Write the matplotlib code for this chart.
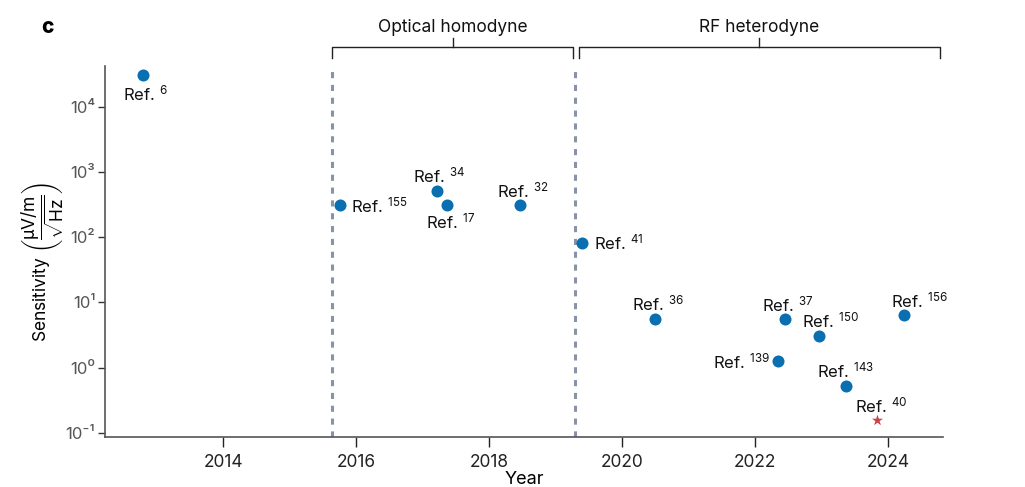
import numpy as np
import matplotlib
matplotlib.use("Agg")
import matplotlib.pyplot as plt


#-------------------------------
# SENSITIVITY vs YEAR (Rydberg receivers)
#-------------------------------

refs = ["6", "155", "34", "17", "32", "41", "36", "37", "150", "139", "143", "40", "156"]
years = [2012.79, 2015.76, 2017.21, 2017.37, 2018.46, 2019.40, 2020.49,
         2022.46, 2022.96, 2022.35, 2023.37, 2023.83, 2024.25]
sensitivity = [3.1e4, 310, 515, 310, 310, 82, 5.5, 5.5, 3.0, 1.25, 0.52, 0.158, 6.3]
highlight = ["40"]          # drawn as a star

method_names = ["Optical homodyne", "RF heterodyne"]
method_spans = [(2015.64, 2019.27), (2019.35, 2024.78)]
method_splits = [2015.64, 2019.30]

xticks = [2014, 2016, 2018, 2020, 2022, 2024]
yticks = [1e-1, 1e0, 1e1, 1e2, 1e3, 1e4]
ytick_labels = ["10⁻¹", "10⁰", "10¹", "10²", "10³", "10⁴"]

# label placement (pixel offset, horizontal alignment)
label_pos = {
    "6": (3, -18, "center"), "155": (11, 0, "left"), "34": (3, 15, "center"),
    "17": (3, -16, "center"), "32": (3, 15, "center"), "41": (12, 0, "left"),
    "36": (3, 16, "center"), "37": (2, 15, "center"), "150": (12, 16, "center"),
    "139": (-8, 0, "right"), "143": (0, 16, "center"), "40": (5, 14, "center"),
    "156": (15, 15, "center"),
}

plt.rcParams["font.family"] = ["Inter", "DejaVu Sans"]
plt.rcParams["mathtext.fontset"] = "custom"
plt.rcParams["mathtext.rm"] = "Inter"
plt.rcParams["mathtext.it"] = "Inter"
plt.rcParams["mathtext.bf"] = "Inter:bold"

blue = "#0a6fb0"
red = "#c9424c"
dash_col = "#8993a8"

fig = plt.figure(figsize=(10.25, 4.87), dpi=100)
ax = fig.add_axes([0.1024, 0.1027, 0.8176, 0.7618])

for r, x, y in zip(refs, years, sensitivity):
    if r in highlight:
        ax.scatter(x, y, marker="*", s=70, color=red, zorder=3, linewidths=0)
    else:
        ax.scatter(x, y, marker="o", s=75, color=blue, zorder=3, linewidths=0)
    dx, dy, ha = label_pos[r]
    ax.annotate("Ref. $^{%s}$" % r, (x, y), xytext=(dx, dy),
                textcoords="offset pixels", ha=ha, va="center",
                fontsize=12, color="#111111")

for xs in method_splits:
    ax.axvline(xs, ymin=0, ymax=0.99, color=dash_col, lw=2.2,
               ls=(0, (2, 2.2)), zorder=1)

# brackets above the axes
trans = ax.get_xaxis_transform()
for name, (x0, x1) in zip(method_names, method_spans):
    xm = (x0 + x1) / 2
    ax.plot([x0, x0, x1, x1], [1.021, 1.051, 1.051, 1.021], color="#222222",
            lw=1.0, transform=trans, clip_on=False)
    ax.plot([xm, xm], [1.051, 1.076], color="#222222", lw=1.0,
            transform=trans, clip_on=False)
    ax.text(xm, 1.105, name, transform=trans, ha="center", va="center",
            fontsize=12.5, color="#111111")

ax.set_yscale("log")
ax.set_xlim(2012.22, 2024.83)
ax.set_ylim(10 ** -1.066, 10 ** 4.63)
ax.set_xticks(xticks)
ax.set_yticks(yticks)
ax.set_yticklabels(ytick_labels, color="#555555", fontsize=12)
ax.minorticks_off()
ax.tick_params(axis="x", direction="out", length=7, width=1, labelsize=12.5,
               pad=5, colors="#222222")
ax.tick_params(axis="y", direction="out", length=5, width=1, color="#333333",
               pad=2)

for side in ["top", "right"]:
    ax.spines[side].set_visible(False)
for side in ["left", "bottom"]:
    ax.spines[side].set_color("#555555")
    ax.spines[side].set_linewidth(1.2)

ax.set_xlabel("Year", fontsize=13, labelpad=0)
ax.set_ylabel(r"Sensitivity $\left(\dfrac{\mu\mathrm{V/m}}{\sqrt{\mathrm{Hz}}}\right)$",
              fontsize=12.5)
ax.yaxis.set_label_coords(-0.047, 0.47)

fig.text(0.046, 0.945, "c", fontsize=15, fontweight="heavy", ha="center", va="center")

fig.savefig("out.png", dpi=100)
